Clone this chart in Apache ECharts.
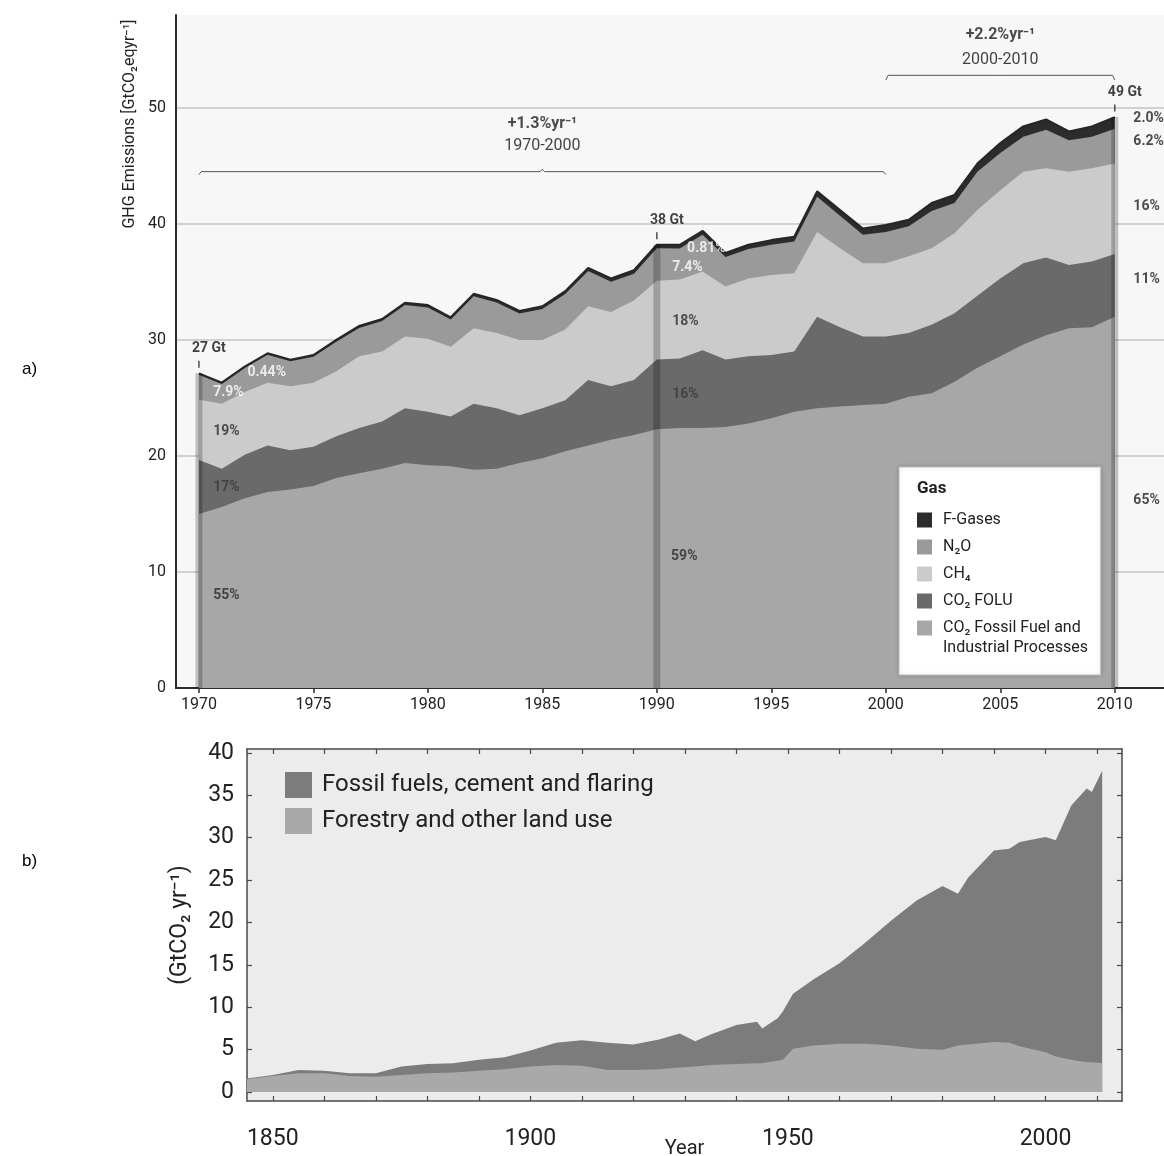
<!DOCTYPE html>
<html>
<head>
<meta charset="utf-8">
<script src="https://cdn.jsdelivr.net/npm/echarts@6/dist/echarts.min.js"></script>
<style>
  html, body { margin: 0; padding: 0; background: #ffffff; }
  #chart { width: 1164px; height: 1156px; }
</style>
</head>
<body>
<div id="chart"></div>
<script>
// ---------- a) Total annual anthropogenic GHG emissions by gas, 1970-2010 (GtCO2eq/yr) ----------
const ghgYears = [1970,1971,1972,1973,1974,1975,1976,1977,1978,1979,
                  1980,1981,1982,1983,1984,1985,1986,1987,1988,1989,
                  1990,1991,1992,1993,1994,1995,1996,1997,1998,1999,
                  2000,2001,2002,2003,2004,2005,2006,2007,2008,2009,2010];
const co2Fossil = [15.0,15.6,16.35,16.9,17.1,17.4,18.1,18.5,18.9,19.4,
                   19.2,19.1,18.8,18.9,19.4,19.8,20.4,20.9,21.4,21.8,
                   22.3,22.4,22.4,22.5,22.8,23.25,23.8,24.1,24.25,24.4,
                   24.5,25.1,25.4,26.4,27.6,28.6,29.6,30.4,31.0,31.1,32.0];
const co2Folu = [4.65,3.3,3.75,4.0,3.4,3.4,3.6,3.9,4.06,4.7,
                 4.6,4.3,5.7,5.2,4.1,4.3,4.4,5.65,4.6,4.75,
                 6.0,6.0,6.7,5.8,5.8,5.45,5.2,7.9,6.85,5.9,
                 5.8,5.5,5.9,5.9,6.2,6.7,7.0,6.7,5.45,5.65,5.4];
const ch4 = [5.2,5.6,5.4,5.4,5.5,5.5,5.6,6.2,6.04,6.2,
             6.3,6.0,6.5,6.5,6.5,5.9,6.1,6.35,6.4,6.85,
             6.8,6.8,6.8,6.3,6.7,6.9,6.75,7.3,6.8,6.3,
             6.3,6.6,6.6,6.9,7.4,7.6,7.9,7.7,8.05,8.05,7.8];
const n2o = [2.15,1.7,2.07,2.41,2.16,2.25,2.54,2.43,2.62,2.71,
             2.7,2.35,2.76,2.63,2.27,2.66,3.05,3.03,2.62,2.3,
             2.8,2.68,3.16,2.55,2.53,2.6,2.72,3.04,2.8,2.47,
             2.7,2.6,3.2,2.6,3.3,3.2,3.0,3.3,2.7,2.7,3.0];
const fGases = [0.12,0.12,0.13,0.14,0.14,0.15,0.16,0.17,0.18,0.19,
                0.2,0.2,0.21,0.22,0.23,0.24,0.25,0.27,0.28,0.3,
                0.31,0.32,0.34,0.35,0.37,0.4,0.43,0.46,0.5,0.53,
                0.6,0.55,0.7,0.7,0.7,0.86,0.9,0.9,0.76,0.9,1.0];
const ghgTickYears = [1970,1975,1980,1985,1990,1995,2000,2005,2010];
const highlightYears = [1970, 1990, 2010];
const shares1970 = ['0.44%','7.9%','19%','17%','55%'];
const shares1990 = ['0.81%','7.4%','18%','16%','59%'];
const shares2010 = ['2.0%','6.2%','16%','11%','65%'];
const growthRates = ['+1.3%yr⁻¹','+2.2%yr⁻¹'];
const growthPeriods = ['1970-2000','2000-2010'];

// ---------- b) Annual global anthropogenic CO2 emissions, 1845-2011 (GtCO2/yr) ----------
const co2Years = [1845,1850,1855,1860,1865,1870,1875,1880,1885,1890,1895,1900,1905,1910,1915,
                  1920,1925,1929,1932,1935,1940,1944,1945,1948,1949,1951,1955,1960,1965,1970,
                  1975,1980,1983,1985,1990,1993,1995,2000,2002,2005,2008,2009,2011];
const forestryLandUse = [1.5,1.9,2.2,2.2,1.9,1.8,2.0,2.2,2.3,2.5,2.7,3.0,3.2,3.1,2.6,
                         2.6,2.7,2.9,3.0,3.2,3.3,3.4,3.4,3.7,3.8,5.1,5.5,5.7,5.7,5.5,
                         5.1,5.0,5.5,5.6,5.9,5.8,5.4,4.7,4.2,3.8,3.5,3.5,3.4];
const fossilCementFlaring = [0.1,0.1,0.4,0.3,0.3,0.4,1.0,1.1,1.1,1.3,1.4,1.9,2.6,3.0,3.2,
                             3.0,3.5,4.0,3.0,3.6,4.6,4.9,4.1,5.0,5.7,6.5,7.8,9.5,11.9,14.7,
                             17.5,19.3,17.9,19.7,22.6,22.9,24.1,25.4,25.5,30.0,32.3,31.9,34.5];
const co2TickYears = [1850,1860,1870,1880,1890,1900,1910,1920,1930,1940,1950,1960,1970,1980,1990,2000,2010];
const co2LabelYears = [1850,1900,1950,2000];
const co2TickValues = [0,5,10,15,20,25,30,35,40];

// ---------- styling ----------
const FONT = 'Roboto, "DejaVu Sans", sans-serif';
const INK = '#222222';
const plain = v => String(v);

const FOSSIL_NAME = 'CO₂ Fossil Fuel and Industrial Processes';
// bottom-to-top order of the gas layers
const ghgLayers = [
  { name: FOSSIL_NAME, values: co2Fossil, color: '#a7a7a7' },
  { name: 'CO₂ FOLU',  values: co2Folu,   color: '#6a6a6a' },
  { name: 'CH₄',       values: ch4,       color: '#cbcbcb' },
  { name: 'N₂O',       values: n2o,       color: '#9a9a9a' },
  { name: 'F-Gases',   values: fGases,    color: '#2c2c2c' }
];

// running sums: the upper edge of each layer
function cumulative(layers, n) {
  const out = [];
  const run = new Array(n).fill(0);
  layers.forEach(layer => {
    layer.values.forEach((v, i) => { run[i] += v; });
    out.push(run.slice());
  });
  return out;
}
const ghgTops = cumulative(ghgLayers, ghgYears.length);
const ghgTotal = ghgTops[ghgTops.length - 1];
const highlightPoints = highlightYears.map(y => [y, ghgTotal[ghgYears.indexOf(y)]]);

// Text notes placed in data coordinates of the top panel
const WHITE = '#ffffff', DARK = '#2a2a2a', DARKER = '#1e1e1e';
const noteItems = [];
function note(x, y, text, color, pos, weight, size) {
  noteItems.push({
    value: [x, y], name: text,
    label: { color: color, position: pos || 'right', fontWeight: weight || 'bold', fontSize: size || 14 }
  });
}
// shares in 1970 (top to bottom: F-Gases, N2O, CH4, FOLU, fossil)
note(1972.1, 27.2, shares1970[0], WHITE);
note(1970.6, 25.5, shares1970[1], WHITE);
note(1970.6, 22.1, shares1970[2], DARK);
note(1970.6, 17.3, shares1970[3], '#3a3a3a');
note(1970.6,  8.0, shares1970[4], DARK);
// shares in 1990
note(1991.3, 37.9, shares1990[0], WHITE);
note(1990.65, 36.2, shares1990[1], WHITE);
note(1990.65, 31.6, shares1990[2], DARK);
note(1990.65, 25.3, shares1990[3], '#3a3a3a');
note(1990.6, 11.3, shares1990[4], DARK);
// shares in 2010, right of the plot
note(2010.79, 49.1, shares2010[0], DARKER);
note(2010.79, 47.1, shares2010[1], DARKER);
note(2010.79, 41.5, shares2010[2], DARKER);
note(2010.79, 35.2, shares2010[3], DARKER);
note(2010.79, 16.2, shares2010[4], DARKER);
// growth-rate brackets
note(1985, 48.6, growthRates[0], DARKER, 'inside', 'bold', 16);
note(1985, 46.7, growthPeriods[0], '#111111', 'inside', 'normal', 16);
note(2005, 56.3, growthRates[1], DARKER, 'inside', 'bold', 16);
note(2005, 54.1, growthPeriods[1], '#111111', 'inside', 'normal', 16);

const bracketStyle = { color: '#555555', width: 1 };

const series = [];

// areas painted from the top layer down, each filled to zero
for (let k = ghgLayers.length - 1; k >= 0; k--) {
  const layer = ghgLayers[k];
  const tops = ghgTops[k];
  series.push({
    name: layer.name,
    type: 'line',
    xAxisIndex: 0, yAxisIndex: 0,
    data: ghgYears.map((y, i) => [y, tops[i]]),
    symbol: 'none',
    color: layer.color,
    itemStyle: { color: layer.color },
    areaStyle: { color: layer.color, opacity: 1, origin: 'start' },
    lineStyle: { width: 0, opacity: 0 },
    silent: true,
    z: 2
  });
}

// dark upper edge of the total
series.push({
  name: 'totalEdge',
  type: 'line',
  xAxisIndex: 0, yAxisIndex: 0,
  data: ghgYears.map((y, i) => [y, ghgTotal[i]]),
  symbol: 'none',
  lineStyle: { color: '#262626', width: 2 },
  silent: true,
  z: 3
});

// darker columns marking 1970, 1990 and 2010
series.push({
  name: 'highlight',
  type: 'bar',
  xAxisIndex: 0, yAxisIndex: 0,
  barWidth: 7,
  data: highlightPoints,
  itemStyle: { color: 'rgba(0,0,0,0.22)' },
  silent: true,
  z: 4
});

// total emission markers with value labels
series.push({
  name: 'totals',
  type: 'scatter',
  xAxisIndex: 0, yAxisIndex: 0,
  data: highlightPoints,
  symbol: 'rect',
  symbolSize: [1.5, 7],
  symbolOffset: [0, -9],
  itemStyle: { color: '#222222' },
  label: {
    show: true, position: 'top', distance: 5, offset: [10, 0],
    formatter: p => Math.round(p.value[1]) + ' Gt',
    fontFamily: FONT, fontSize: 14, fontWeight: 'bold', color: '#111111'
  },
  silent: true,
  z: 6
});

// growth brackets
series.push({
  name: 'bracket1970',
  type: 'line', xAxisIndex: 0, yAxisIndex: 0,
  data: [[1970, 44.25], [1970.1, 44.5], [1984.9, 44.5], [1985, 44.7], [1985.1, 44.5], [1999.9, 44.5], [2000, 44.25]],
  symbol: 'none', lineStyle: bracketStyle, silent: true, z: 5
});
series.push({
  name: 'bracket2000',
  type: 'line', xAxisIndex: 0, yAxisIndex: 0,
  data: [[2000, 52.4], [2000.1, 52.8], [2004.95, 52.8], [2005, 52.95], [2005.05, 52.8], [2009.9, 52.8], [2010, 52.4]],
  symbol: 'none', lineStyle: bracketStyle, silent: true, z: 5
});

// share and growth notes
series.push({
  name: 'notes',
  type: 'scatter', xAxisIndex: 0, yAxisIndex: 0,
  data: noteItems,
  symbolSize: 1,
  itemStyle: { color: 'rgba(0,0,0,0)' },
  label: { show: true, formatter: '{b}', distance: 0, fontFamily: FONT },
  silent: true,
  z: 7
});

// bottom panel: total first, land use painted over it
const co2Total = co2Years.map((_, i) => forestryLandUse[i] + fossilCementFlaring[i]);
series.push({
  name: 'Fossil fuels, cement and flaring',
  type: 'line', xAxisIndex: 1, yAxisIndex: 1,
  data: co2Years.map((y, i) => [y, co2Total[i]]),
  symbol: 'none',
  color: '#7c7c7c',
  itemStyle: { color: '#7c7c7c' },
  areaStyle: { color: '#7c7c7c', opacity: 1 },
  lineStyle: { width: 0, opacity: 0 },
  silent: true,
  z: 2
});
series.push({
  name: 'Forestry and other land use',
  type: 'line', xAxisIndex: 1, yAxisIndex: 1,
  data: co2Years.map((y, i) => [y, forestryLandUse[i]]),
  symbol: 'none',
  color: '#a9a9a9',
  itemStyle: { color: '#a9a9a9' },
  areaStyle: { color: '#a9a9a9', opacity: 1 },
  lineStyle: { width: 0, opacity: 0 },
  silent: true,
  z: 2
});

const frameLine = { color: '#4a4a4a', width: 1.5 };

const option = {
  animation: false,
  backgroundColor: '#ffffff',
  textStyle: { fontFamily: FONT },
  grid: [
    { left: 176, top: 15, width: 988, height: 673, show: true, backgroundColor: '#f7f7f7', borderWidth: 0,
      outerBoundsMode: 'none', containLabel: false },
    { left: 247, top: 749, width: 875, height: 352, show: true, backgroundColor: '#ececec', borderWidth: 0,
      outerBoundsMode: 'none', containLabel: false }
  ],
  xAxis: [
    {
      type: 'value', gridIndex: 0, min: 1969, max: 2012.15,
      axisLine: { show: true, onZero: false, lineStyle: { color: '#2b2b2b', width: 2 } },
      axisTick: { show: true, length: 5, customValues: ghgTickYears, lineStyle: { color: '#2b2b2b', width: 1.5 } },
      axisLabel: { customValues: ghgTickYears, formatter: plain, margin: 9, fontSize: 16, color: INK, fontFamily: FONT },
      splitLine: { show: false }
    },
    {
      type: 'value', gridIndex: 1, min: 1845, max: 2014.85, position: 'bottom',
      axisLine: { show: true, onZero: false, lineStyle: frameLine },
      axisTick: { show: true, inside: true, length: 5, customValues: co2TickYears, lineStyle: { color: '#4a4a4a', width: 1.2 } },
      axisLabel: { customValues: co2LabelYears, formatter: plain, margin: 27, fontSize: 23, color: INK, fontFamily: FONT },
      splitLine: { show: false },
      name: 'Year', nameLocation: 'middle', nameGap: 38, nameMoveOverlap: false,
      nameTextStyle: { fontSize: 20, color: INK, fontFamily: FONT }
    },
    {
      type: 'value', gridIndex: 1, min: 1845, max: 2014.85, position: 'top',
      axisLine: { show: true, onZero: false, lineStyle: frameLine },
      axisTick: { show: true, inside: true, length: 5, customValues: co2TickYears, lineStyle: { color: '#4a4a4a', width: 1.2 } },
      axisLabel: { show: false },
      splitLine: { show: false }
    }
  ],
  yAxis: [
    {
      type: 'value', gridIndex: 0, min: 0, max: 58, interval: 10,
      axisLine: { show: true, lineStyle: { color: '#2b2b2b', width: 2 } },
      axisTick: { show: false },
      axisLabel: { margin: 10, fontSize: 16, color: INK, fontFamily: FONT,
                   formatter: v => (v % 10 === 0 ? String(v) : '') },
      splitLine: { show: true, showMinLine: false, showMaxLine: false,
                   lineStyle: { color: '#c4c4c4', width: 1.5 } }
    },
    {
      type: 'value', gridIndex: 1, min: -1.06, max: 40.47, position: 'left',
      axisLine: { show: true, lineStyle: frameLine },
      axisTick: { show: true, inside: true, length: 5, customValues: co2TickValues, lineStyle: { color: '#4a4a4a', width: 1.2 } },
      axisLabel: { customValues: co2TickValues, formatter: plain, margin: 13, fontSize: 23, color: INK, fontFamily: FONT },
      splitLine: { show: false },
      name: '(GtCO₂ yr⁻¹)', nameLocation: 'middle', nameGap: 55, nameMoveOverlap: false,
      nameTextStyle: { fontSize: 23, color: INK, fontFamily: FONT }
    },
    {
      type: 'value', gridIndex: 1, min: -1.06, max: 40.47, position: 'right',
      axisLine: { show: true, lineStyle: frameLine },
      axisTick: { show: true, inside: true, length: 5, customValues: co2TickValues, lineStyle: { color: '#4a4a4a', width: 1.2 } },
      axisLabel: { show: false },
      splitLine: { show: false }
    }
  ],
  legend: [
    {
      data: ['F-Gases', 'N₂O', 'CH₄', 'CO₂ FOLU', FOSSIL_NAME],
      orient: 'vertical', left: 899, top: 467,
      icon: 'rect', itemWidth: 15, itemHeight: 15, itemGap: 11,
      padding: [45, 20, 39, 18],
      backgroundColor: '#ffffff', borderColor: '#bdbdbd', borderWidth: 1,
      shadowBlur: 4, shadowColor: 'rgba(0,0,0,0.2)',
      selectedMode: false,
      formatter: n => (n === FOSSIL_NAME ? 'CO₂ Fossil Fuel and' : n),
      textStyle: { fontSize: 16, color: INK, fontFamily: FONT, padding: [0, 0, 0, 6] }
    },
    {
      data: ['Fossil fuels, cement and flaring', 'Forestry and other land use'],
      orient: 'vertical', left: 285, top: 772,
      icon: 'rect', itemWidth: 27, itemHeight: 26, itemGap: 10,
      padding: 0,
      selectedMode: false,
      textStyle: { fontSize: 24, color: INK, fontFamily: FONT, padding: [0, 0, 0, 5] }
    }
  ],
  graphic: [
    { type: 'text', left: 22, top: 361, z: 100,
      style: { text: 'a)', fontSize: 17, fontFamily: '"Liberation Sans", Arial, sans-serif', fill: '#000000' } },
    { type: 'text', left: 22, top: 853, z: 100,
      style: { text: 'b)', fontSize: 17, fontFamily: '"Liberation Sans", Arial, sans-serif', fill: '#000000' } },
    { type: 'text', x: 130, y: 124, rotation: Math.PI / 2, z: 100,
      style: { text: 'GHG Emissions [GtCO₂eqyr⁻¹]', fontSize: 16, fontFamily: FONT, fill: INK,
               align: 'center', verticalAlign: 'middle' } },
    { type: 'text', left: 917, top: 480, z: 100,
      style: { text: 'Gas', fontSize: 17, fontWeight: 'bold', fontFamily: FONT, fill: INK } },
    { type: 'text', left: 943, top: 640, z: 100,
      style: { text: 'Industrial Processes', fontSize: 16, fontFamily: FONT, fill: INK } }
  ],
  series: series
};

const chart = echarts.init(document.getElementById('chart'), null, { renderer: 'canvas' });
chart.setOption(option);
</script>
</body>
</html>
